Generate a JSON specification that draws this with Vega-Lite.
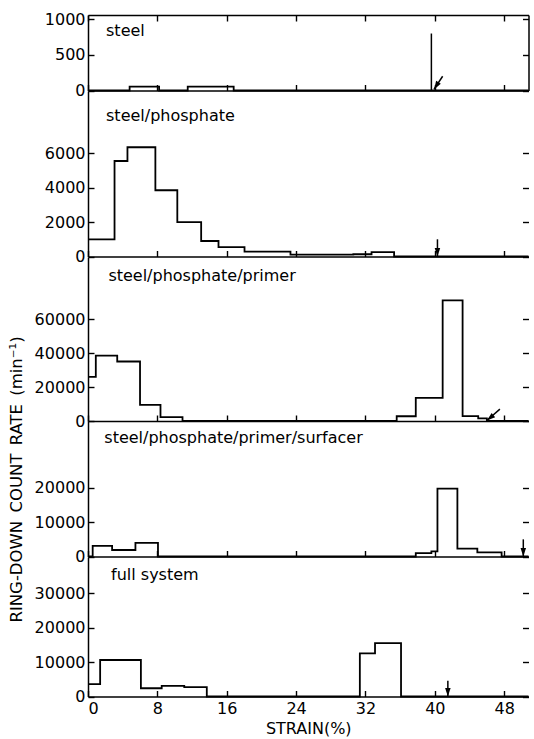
{
  "$schema": "https://vega.github.io/schema/vega-lite/v6.json",
  "padding": {"left": 8, "top": 11, "right": 3, "bottom": 0},
  "background": "white",
  "config": {
    "view": {"stroke": null},
    "font": "DejaVu Sans",
    "axis": {
      "grid": false,
      "domainColor": "#000",
      "domainWidth": 1.5,
      "tickColor": "#000",
      "tickWidth": 1.4,
      "tickSize": 6,
      "labelPadding": 3,
      "labelColor": "#000",
      "labelFont": "DejaVu Sans",
      "labelFontSize": 16,
      "format": "d",
      "titleFont": "DejaVu Sans",
      "titleColor": "#000",
      "titleFontWeight": "normal"
    },
    "text": {"font": "DejaVu Sans", "fontSize": 16, "color": "#000", "align": "left", "baseline": "alphabetic"}
  },
  "datasets": {
    "hist": [
      {"panel": "steel", "strain": 0, "rate": 0},
      {"panel": "steel", "strain": 4.8, "rate": 55},
      {"panel": "steel", "strain": 8.2, "rate": 0},
      {"panel": "steel", "strain": 11.5, "rate": 55},
      {"panel": "steel", "strain": 16.8, "rate": 0},
      {"panel": "steel", "strain": 50.8, "rate": 0},
      {"panel": "steel/phosphate", "strain": 0, "rate": 1000},
      {"panel": "steel/phosphate", "strain": 3.06, "rate": 5550},
      {"panel": "steel/phosphate", "strain": 4.55, "rate": 6350},
      {"panel": "steel/phosphate", "strain": 7.77, "rate": 3850},
      {"panel": "steel/phosphate", "strain": 10.3, "rate": 2000},
      {"panel": "steel/phosphate", "strain": 13.05, "rate": 900},
      {"panel": "steel/phosphate", "strain": 15.05, "rate": 550},
      {"panel": "steel/phosphate", "strain": 18.05, "rate": 280},
      {"panel": "steel/phosphate", "strain": 23.35, "rate": 110},
      {"panel": "steel/phosphate", "strain": 30.6, "rate": 130},
      {"panel": "steel/phosphate", "strain": 32.7, "rate": 250},
      {"panel": "steel/phosphate", "strain": 35.3, "rate": 0},
      {"panel": "steel/phosphate", "strain": 50.8, "rate": 0},
      {"panel": "steel/phosphate/primer", "strain": 0, "rate": 26000},
      {"panel": "steel/phosphate/primer", "strain": 0.9, "rate": 38500},
      {"panel": "steel/phosphate/primer", "strain": 3.37, "rate": 35000},
      {"panel": "steel/phosphate/primer", "strain": 6.0, "rate": 9500},
      {"panel": "steel/phosphate/primer", "strain": 8.36, "rate": 2300},
      {"panel": "steel/phosphate/primer", "strain": 10.9, "rate": 0},
      {"panel": "steel/phosphate/primer", "strain": 35.6, "rate": 2800},
      {"panel": "steel/phosphate/primer", "strain": 37.8, "rate": 13600},
      {"panel": "steel/phosphate/primer", "strain": 40.9, "rate": 71000},
      {"panel": "steel/phosphate/primer", "strain": 43.2, "rate": 2900},
      {"panel": "steel/phosphate/primer", "strain": 45.0, "rate": 1600},
      {"panel": "steel/phosphate/primer", "strain": 46.0, "rate": 0},
      {"panel": "steel/phosphate/primer", "strain": 50.8, "rate": 0},
      {"panel": "steel/phosphate/primer/surfacer", "strain": 0, "rate": 0},
      {"panel": "steel/phosphate/primer/surfacer", "strain": 0.54, "rate": 3100},
      {"panel": "steel/phosphate/primer/surfacer", "strain": 2.78, "rate": 1900},
      {"panel": "steel/phosphate/primer/surfacer", "strain": 5.47, "rate": 4000},
      {"panel": "steel/phosphate/primer/surfacer", "strain": 8.07, "rate": 0},
      {"panel": "steel/phosphate/primer/surfacer", "strain": 37.8, "rate": 1000},
      {"panel": "steel/phosphate/primer/surfacer", "strain": 39.6, "rate": 1500},
      {"panel": "steel/phosphate/primer/surfacer", "strain": 40.3, "rate": 19800},
      {"panel": "steel/phosphate/primer/surfacer", "strain": 42.6, "rate": 2300},
      {"panel": "steel/phosphate/primer/surfacer", "strain": 44.9, "rate": 1200},
      {"panel": "steel/phosphate/primer/surfacer", "strain": 47.7, "rate": 0},
      {"panel": "steel/phosphate/primer/surfacer", "strain": 50.8, "rate": 0},
      {"panel": "full system", "strain": 0, "rate": 3600},
      {"panel": "full system", "strain": 1.4, "rate": 10600},
      {"panel": "full system", "strain": 6.1, "rate": 2400},
      {"panel": "full system", "strain": 8.5, "rate": 3100},
      {"panel": "full system", "strain": 11.1, "rate": 2700},
      {"panel": "full system", "strain": 13.7, "rate": 0},
      {"panel": "full system", "strain": 31.35, "rate": 12500},
      {"panel": "full system", "strain": 33.1, "rate": 15500},
      {"panel": "full system", "strain": 36.1, "rate": 0},
      {"panel": "full system", "strain": 50.8, "rate": 0}
    ],
    "arrows": [
      {"panel": "steel", "kind": "line", "x": 39.6, "y": 800, "x2": 39.6, "y2": 0},
      {"panel": "steel", "kind": "arrow", "x": 40.9, "y": 200, "x2": 39.9, "y2": 15},
      {"panel": "steel/phosphate", "kind": "arrow", "x": 40.3, "y": 1000, "x2": 40.3, "y2": 0},
      {"panel": "steel/phosphate/primer", "kind": "arrow", "x": 47.5, "y": 7000, "x2": 46.0, "y2": 300},
      {"panel": "steel/phosphate/primer/surfacer", "kind": "arrow", "x": 50.2, "y": 5000, "x2": 50.2, "y2": 0},
      {"panel": "full system", "kind": "arrow", "x": 41.5, "y": 4600, "x2": 41.5, "y2": 0}
    ]
  },
  "spacing": 0,
  "bounds": "flush",
  "vconcat": [
    {
      "width": 440.5, "height": 75.5,
      "layer": [
        {"data": {"name": "hist"}, "transform": [{"filter": "datum.panel === 'steel'"}],
         "mark": {"type": "line", "interpolate": "step-after", "color": "#000", "strokeWidth": 1.8},
         "encoding": {
           "x": {"field": "strain", "type": "quantitative", "scale": {"domain": [0, 50.8], "nice": false, "zero": false}, "axis": {"values": [0, 8, 16, 24, 32, 40, 48], "labels": false, "ticks": false, "title": null}},
           "y": {"field": "rate", "type": "quantitative", "scale": {"domain": [0, 1060], "nice": false}, "axis": {"values": [0, 500, 1000], "ticks": false, "title": null}}}},
        {"data": {"name": "hist"}, "transform": [{"filter": "datum.panel === 'steel'"}],
         "mark": {"type": "line", "strokeOpacity": 0},
         "encoding": {
           "x": {"field": "strain", "type": "quantitative", "axis": {"orient": "top", "offset": -75.5, "values": [0, 8, 16, 24, 32, 40, 48], "labels": false, "domain": false, "title": null}},
           "y": {"field": "rate", "type": "quantitative", "axis": {"orient": "right", "offset": -440.5, "values": [0, 500, 1000], "labels": false, "domain": false, "title": null}}}},
        {"data": {"name": "hist"}, "transform": [{"filter": "datum.panel === 'steel'"}],
         "mark": {"type": "line", "strokeOpacity": 0},
         "encoding": {
           "x": {"field": "strain", "type": "quantitative", "axis": {"orient": "bottom", "offset": -75.5, "values": [0, 8, 16, 24, 32, 40, 48], "labels": false, "title": null}},
           "y": {"field": "rate", "type": "quantitative", "axis": {"orient": "left", "offset": -440.5, "values": [0, 500, 1000], "labels": false, "title": null}}}},
        {"data": {"name": "arrows"}, "transform": [{"filter": "datum.panel === 'steel'"}],
         "mark": {"type": "rule", "color": "#000", "strokeWidth": 1.5},
         "encoding": {"x": {"field": "x", "type": "quantitative", "axis": null}, "y": {"field": "y", "type": "quantitative", "axis": null}, "x2": {"field": "x2"}, "y2": {"field": "y2"}}},
        {"data": {"name": "arrows"}, "transform": [{"filter": "datum.panel === 'steel' && datum.kind === 'arrow'"}],
         "mark": {"type": "point", "shape": "M0,0L-0.55,-1.7L0.55,-1.7Z", "filled": true, "color": "#000", "size": 100, "opacity": 1},
         "encoding": {"x": {"field": "x2", "type": "quantitative", "axis": null}, "y": {"field": "y2", "type": "quantitative", "axis": null}, "angle": {"condition": {"test": "datum.x != datum.x2", "value": 32}, "value": 0}}},
        {"data": {"values": [{"label": "steel"}]},
         "mark": {"type": "text"},
         "encoding": {"x": {"datum": 2.08, "type": "quantitative", "axis": null}, "y": {"datum": 772, "type": "quantitative", "axis": null}, "text": {"field": "label"}}}
      ],
      "resolve": {"axis": {"x": "independent", "y": "independent"}}
    },
    {
      "width": 440.5, "height": 165.5,
      "layer": [
        {"data": {"name": "hist"}, "transform": [{"filter": "datum.panel === 'steel/phosphate'"}],
         "mark": {"type": "line", "interpolate": "step-after", "color": "#000", "strokeWidth": 1.8},
         "encoding": {
           "x": {"field": "strain", "type": "quantitative", "scale": {"domain": [0, 50.8], "nice": false, "zero": false}, "axis": {"values": [0, 8, 16, 24, 32, 40, 48], "labels": false, "ticks": false, "title": null}},
           "y": {"field": "rate", "type": "quantitative", "scale": {"domain": [0, 9620], "nice": false}, "axis": {"values": [0, 2000, 4000, 6000], "ticks": false, "title": null}}}},
        {"data": {"name": "hist"}, "transform": [{"filter": "datum.panel === 'steel/phosphate'"}],
         "mark": {"type": "line", "strokeOpacity": 0},
         "encoding": {
           "x": {"field": "strain", "type": "quantitative", "axis": {"orient": "top", "offset": -165.5, "values": [0, 8, 16, 24, 32, 40, 48], "labels": false, "domain": false, "title": null}},
           "y": {"field": "rate", "type": "quantitative", "axis": {"orient": "right", "offset": -440.5, "values": [0, 2000, 4000, 6000], "labels": false, "domain": false, "title": null}}}},
        {"data": {"name": "hist"}, "transform": [{"filter": "datum.panel === 'steel/phosphate'"}],
         "mark": {"type": "line", "strokeOpacity": 0},
         "encoding": {
           "x": {"field": "strain", "type": "quantitative", "axis": null},
           "y": {"field": "rate", "type": "quantitative", "axis": {"orient": "left", "offset": -440.5, "values": [0, 2000, 4000, 6000], "labels": false, "domain": false, "title": null}}}},
        {"data": {"name": "arrows"}, "transform": [{"filter": "datum.panel === 'steel/phosphate'"}],
         "mark": {"type": "rule", "color": "#000", "strokeWidth": 1.5},
         "encoding": {"x": {"field": "x", "type": "quantitative", "axis": null}, "y": {"field": "y", "type": "quantitative", "axis": null}, "x2": {"field": "x2"}, "y2": {"field": "y2"}}},
        {"data": {"name": "arrows"}, "transform": [{"filter": "datum.panel === 'steel/phosphate' && datum.kind === 'arrow'"}],
         "mark": {"type": "point", "shape": "M0,0L-0.55,-1.7L0.55,-1.7Z", "filled": true, "color": "#000", "size": 100, "opacity": 1},
         "encoding": {"x": {"field": "x2", "type": "quantitative", "axis": null}, "y": {"field": "y2", "type": "quantitative", "axis": null}, "angle": {"condition": {"test": "datum.x != datum.x2", "value": 40}, "value": 0}}},
        {"data": {"values": [{"label": "steel/phosphate"}]},
         "mark": {"type": "text"},
         "encoding": {"x": {"datum": 2.08, "type": "quantitative", "axis": null}, "y": {"datum": 7905, "type": "quantitative", "axis": null}, "text": {"field": "label"}}}
      ],
      "resolve": {"axis": {"x": "independent", "y": "independent"}}
    },
    {
      "width": 440.5, "height": 164,
      "layer": [
        {"data": {"name": "hist"}, "transform": [{"filter": "datum.panel === 'steel/phosphate/primer'"}],
         "mark": {"type": "line", "interpolate": "step-after", "color": "#000", "strokeWidth": 1.8},
         "encoding": {
           "x": {"field": "strain", "type": "quantitative", "scale": {"domain": [0, 50.8], "nice": false, "zero": false}, "axis": {"values": [0, 8, 16, 24, 32, 40, 48], "labels": false, "ticks": false, "title": null}},
           "y": {"field": "rate", "type": "quantitative", "scale": {"domain": [0, 96500], "nice": false}, "axis": {"values": [0, 20000, 40000, 60000], "ticks": false, "title": null}}}},
        {"data": {"name": "hist"}, "transform": [{"filter": "datum.panel === 'steel/phosphate/primer'"}],
         "mark": {"type": "line", "strokeOpacity": 0},
         "encoding": {
           "x": {"field": "strain", "type": "quantitative", "axis": {"orient": "top", "offset": -164, "values": [0, 8, 16, 24, 32, 40, 48], "labels": false, "domain": false, "title": null}},
           "y": {"field": "rate", "type": "quantitative", "axis": {"orient": "right", "offset": -440.5, "values": [0, 20000, 40000, 60000], "labels": false, "domain": false, "title": null}}}},
        {"data": {"name": "hist"}, "transform": [{"filter": "datum.panel === 'steel/phosphate/primer'"}],
         "mark": {"type": "line", "strokeOpacity": 0},
         "encoding": {
           "x": {"field": "strain", "type": "quantitative", "axis": null},
           "y": {"field": "rate", "type": "quantitative", "axis": {"orient": "left", "offset": -440.5, "values": [0, 20000, 40000, 60000], "labels": false, "domain": false, "title": null}}}},
        {"data": {"name": "arrows"}, "transform": [{"filter": "datum.panel === 'steel/phosphate/primer'"}],
         "mark": {"type": "rule", "color": "#000", "strokeWidth": 1.5},
         "encoding": {"x": {"field": "x", "type": "quantitative", "axis": null}, "y": {"field": "y", "type": "quantitative", "axis": null}, "x2": {"field": "x2"}, "y2": {"field": "y2"}}},
        {"data": {"name": "arrows"}, "transform": [{"filter": "datum.panel === 'steel/phosphate/primer' && datum.kind === 'arrow'"}],
         "mark": {"type": "point", "shape": "M0,0L-0.55,-1.7L0.55,-1.7Z", "filled": true, "color": "#000", "size": 100, "opacity": 1},
         "encoding": {"x": {"field": "x2", "type": "quantitative", "axis": null}, "y": {"field": "y2", "type": "quantitative", "axis": null}, "angle": {"condition": {"test": "datum.x != datum.x2", "value": 50}, "value": 0}}},
        {"data": {"values": [{"label": "steel/phosphate/primer"}]},
         "mark": {"type": "text"},
         "encoding": {"x": {"datum": 2.35, "type": "quantitative", "axis": null}, "y": {"datum": 82380, "type": "quantitative", "axis": null}, "text": {"field": "label"}}}
      ],
      "resolve": {"axis": {"x": "independent", "y": "independent"}}
    },
    {
      "width": 440.5, "height": 135.5,
      "layer": [
        {"data": {"name": "hist"}, "transform": [{"filter": "datum.panel === 'steel/phosphate/primer/surfacer'"}],
         "mark": {"type": "line", "interpolate": "step-after", "color": "#000", "strokeWidth": 1.8},
         "encoding": {
           "x": {"field": "strain", "type": "quantitative", "scale": {"domain": [0, 50.8], "nice": false, "zero": false}, "axis": {"values": [0, 8, 16, 24, 32, 40, 48], "labels": false, "ticks": false, "title": null}},
           "y": {"field": "rate", "type": "quantitative", "scale": {"domain": [0, 39500], "nice": false}, "axis": {"values": [0, 10000, 20000], "ticks": false, "title": "RING-DOWN\u2002COUNT\u2002RATE\u2002(min⁻¹)", "titleX": -71.3, "titleY": 58, "titleAngle": -90, "titleAlign": "center", "titleBaseline": "middle", "titleFontSize": 16.5}}}},
        {"data": {"name": "hist"}, "transform": [{"filter": "datum.panel === 'steel/phosphate/primer/surfacer'"}],
         "mark": {"type": "line", "strokeOpacity": 0},
         "encoding": {
           "x": {"field": "strain", "type": "quantitative", "axis": {"orient": "top", "offset": -135.5, "values": [0, 8, 16, 24, 32, 40, 48], "labels": false, "domain": false, "title": null}},
           "y": {"field": "rate", "type": "quantitative", "axis": {"orient": "right", "offset": -440.5, "values": [0, 10000, 20000], "labels": false, "domain": false, "title": null}}}},
        {"data": {"name": "hist"}, "transform": [{"filter": "datum.panel === 'steel/phosphate/primer/surfacer'"}],
         "mark": {"type": "line", "strokeOpacity": 0},
         "encoding": {
           "x": {"field": "strain", "type": "quantitative", "axis": null},
           "y": {"field": "rate", "type": "quantitative", "axis": {"orient": "left", "offset": -440.5, "values": [0, 10000, 20000], "labels": false, "domain": false, "title": null}}}},
        {"data": {"name": "arrows"}, "transform": [{"filter": "datum.panel === 'steel/phosphate/primer/surfacer'"}],
         "mark": {"type": "rule", "color": "#000", "strokeWidth": 1.5},
         "encoding": {"x": {"field": "x", "type": "quantitative", "axis": null}, "y": {"field": "y", "type": "quantitative", "axis": null}, "x2": {"field": "x2"}, "y2": {"field": "y2"}}},
        {"data": {"name": "arrows"}, "transform": [{"filter": "datum.panel === 'steel/phosphate/primer/surfacer' && datum.kind === 'arrow'"}],
         "mark": {"type": "point", "shape": "M0,0L-0.55,-1.7L0.55,-1.7Z", "filled": true, "color": "#000", "size": 100, "opacity": 1},
         "encoding": {"x": {"field": "x2", "type": "quantitative", "axis": null}, "y": {"field": "y2", "type": "quantitative", "axis": null}, "angle": {"condition": {"test": "datum.x != datum.x2", "value": 40}, "value": 0}}},
        {"data": {"values": [{"label": "steel/phosphate/primer/surfacer"}]},
         "mark": {"type": "text"},
         "encoding": {"x": {"datum": 1.88, "type": "quantitative", "axis": null}, "y": {"datum": 33090, "type": "quantitative", "axis": null}, "text": {"field": "label"}}}
      ],
      "resolve": {"axis": {"x": "independent", "y": "independent"}}
    },
    {
      "width": 440.5, "height": 139.5,
      "layer": [
        {"data": {"name": "hist"}, "transform": [{"filter": "datum.panel === 'full system'"}],
         "mark": {"type": "line", "interpolate": "step-after", "color": "#000", "strokeWidth": 1.8},
         "encoding": {
           "x": {"field": "strain", "type": "quantitative", "scale": {"domain": [0, 50.8], "nice": false, "zero": false}, "axis": {"values": [0, 8, 16, 24, 32, 40, 48], "ticks": false, "labelPadding": 4, "title": "STRAIN(%)", "titleFontSize": 16, "titlePadding": 4}},
           "y": {"field": "rate", "type": "quantitative", "scale": {"domain": [0, 40500], "nice": false}, "axis": {"values": [0, 10000, 20000, 30000], "ticks": false, "title": null}}}},
        {"data": {"name": "hist"}, "transform": [{"filter": "datum.panel === 'full system'"}],
         "mark": {"type": "line", "strokeOpacity": 0},
         "encoding": {
           "x": {"field": "strain", "type": "quantitative", "axis": {"orient": "top", "offset": -139.5, "values": [0, 8, 16, 24, 32, 40, 48], "labels": false, "domain": false, "title": null}},
           "y": {"field": "rate", "type": "quantitative", "axis": {"orient": "right", "offset": -440.5, "values": [0, 10000, 20000, 30000], "labels": false, "domain": false, "title": null}}}},
        {"data": {"name": "hist"}, "transform": [{"filter": "datum.panel === 'full system'"}],
         "mark": {"type": "line", "strokeOpacity": 0},
         "encoding": {
           "x": {"field": "strain", "type": "quantitative", "axis": null},
           "y": {"field": "rate", "type": "quantitative", "axis": {"orient": "left", "offset": -440.5, "values": [0, 10000, 20000, 30000], "labels": false, "domain": false, "title": null}}}},
        {"data": {"name": "arrows"}, "transform": [{"filter": "datum.panel === 'full system'"}],
         "mark": {"type": "rule", "color": "#000", "strokeWidth": 1.5},
         "encoding": {"x": {"field": "x", "type": "quantitative", "axis": null}, "y": {"field": "y", "type": "quantitative", "axis": null}, "x2": {"field": "x2"}, "y2": {"field": "y2"}}},
        {"data": {"name": "arrows"}, "transform": [{"filter": "datum.panel === 'full system' && datum.kind === 'arrow'"}],
         "mark": {"type": "point", "shape": "M0,0L-0.55,-1.7L0.55,-1.7Z", "filled": true, "color": "#000", "size": 100, "opacity": 1},
         "encoding": {"x": {"field": "x2", "type": "quantitative", "axis": null}, "y": {"field": "y2", "type": "quantitative", "axis": null}, "angle": {"condition": {"test": "datum.x != datum.x2", "value": 40}, "value": 0}}},
        {"data": {"values": [{"label": "full system"}]},
         "mark": {"type": "text"},
         "encoding": {"x": {"datum": 2.66, "type": "quantitative", "axis": null}, "y": {"datum": 33680, "type": "quantitative", "axis": null}, "text": {"field": "label"}}}
      ],
      "resolve": {"axis": {"x": "independent", "y": "independent"}}
    }
  ]
}
